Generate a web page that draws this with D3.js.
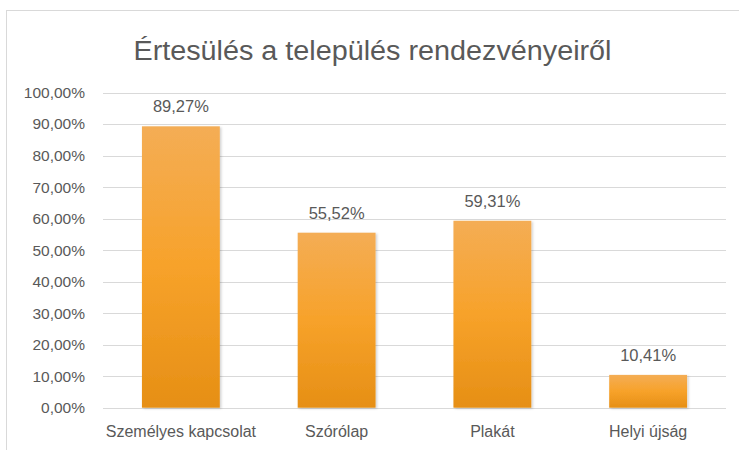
<!DOCTYPE html>
<html><head><meta charset="utf-8">
<script src="https://cdn.jsdelivr.net/npm/d3@7"></script>
<style>
html,body{margin:0;padding:0;background:#fff;}
text{font-family:"Liberation Sans","Open Sans",sans-serif;fill:#595959;}
</style></head>
<body>
<svg id="c" width="739" height="450"></svg>
<script>
const titleText = "Értesülés a település rendezvényeiről";
const categories = ["Személyes kapcsolat", "Szórólap", "Plakát", "Helyi újság"];
const values = [0.8927, 0.5552, 0.5931, 0.1041];
const yTicks = [0, 0.1, 0.2, 0.3, 0.4, 0.5, 0.6, 0.7, 0.8, 0.9, 1.0];

const fmt = v => (v*100).toFixed(2).replace(".", ",") + "%";

const svg = d3.select("#c");
// chart frame
svg.append("rect").attr("x",6.5).attr("y",10.5).attr("width",760).attr("height",460)
  .attr("fill","#fff").attr("stroke","#d9d9d9").attr("stroke-width",1);

const defs = svg.append("defs");
const g1 = defs.append("linearGradient").attr("id","bar").attr("x1",0).attr("y1",0).attr("x2",0).attr("y2",1);
g1.append("stop").attr("offset","0%").attr("stop-color","#f4ad55");
g1.append("stop").attr("offset","50%").attr("stop-color","#f7a22a");
g1.append("stop").attr("offset","100%").attr("stop-color","#e68f15");
const f = defs.append("filter").attr("id","sh").attr("x","-20%").attr("y","-20%").attr("width","140%").attr("height","140%");
f.append("feDropShadow").attr("dx",1.5).attr("dy",1).attr("stdDeviation",1.2).attr("flood-color","#000").attr("flood-opacity",0.18);

const x = d3.scaleBand().domain(categories).range([103, 726]).paddingInner(0.5).paddingOuter(0.25);
const y = d3.scaleLinear().domain([0,1]).range([407.7, 92.5]);

// gridlines
svg.append("g").selectAll("line").data(yTicks).join("line")
  .attr("x1",103).attr("x2",726)
  .attr("y1",d=>Math.round(y(d))+0.5).attr("y2",d=>Math.round(y(d))+0.5)
  .attr("stroke","#d9d9d9").attr("stroke-width",1);

// y axis labels
const yAxis = d3.axisLeft(y).tickValues(yTicks).tickFormat(fmt).tickSize(0).tickPadding(0);
const ya = svg.append("g").attr("transform","translate(85,0)").call(yAxis);
ya.select(".domain").remove();
ya.selectAll("text").attr("font-size","15.5px").attr("fill","#595959")
  .style("font-family","'Liberation Sans','Open Sans',sans-serif");

// bars
svg.append("g").selectAll("rect").data(values).join("rect")
  .attr("x",(d,i)=>x(categories[i]))
  .attr("width",x.bandwidth())
  .attr("y",d=>y(d))
  .attr("height",d=>y(0)-y(d))
  .attr("fill","url(#bar)")
  .attr("filter","url(#sh)");

// data labels
svg.append("g").selectAll("text").data(values).join("text")
  .attr("x",(d,i)=>x(categories[i])+x.bandwidth()/2)
  .attr("y",d=>y(d)-14)
  .attr("text-anchor","middle").attr("font-size","16.5px")
  .text(fmt);

// x axis
const xAxis = d3.axisBottom(x).tickSize(0).tickPadding(0);
const xa = svg.append("g").attr("transform","translate(0,"+(y(0))+")").call(xAxis);
xa.select(".domain").remove();
xa.selectAll("text").attr("y",29).attr("dy",0).attr("dominant-baseline","auto")
  .attr("font-size","16px").attr("fill","#595959")
  .style("font-family","'Liberation Sans','Open Sans',sans-serif");

// title
const t = svg.append("text").attr("x",372.5).attr("y",60).attr("text-anchor","middle")
  .attr("font-size","27px").attr("fill","#595959").text(titleText);
const w = t.node().getComputedTextLength();
if (w > 0) t.attr("textLength",478).attr("lengthAdjust","spacingAndGlyphs");
</script>
</body></html>
